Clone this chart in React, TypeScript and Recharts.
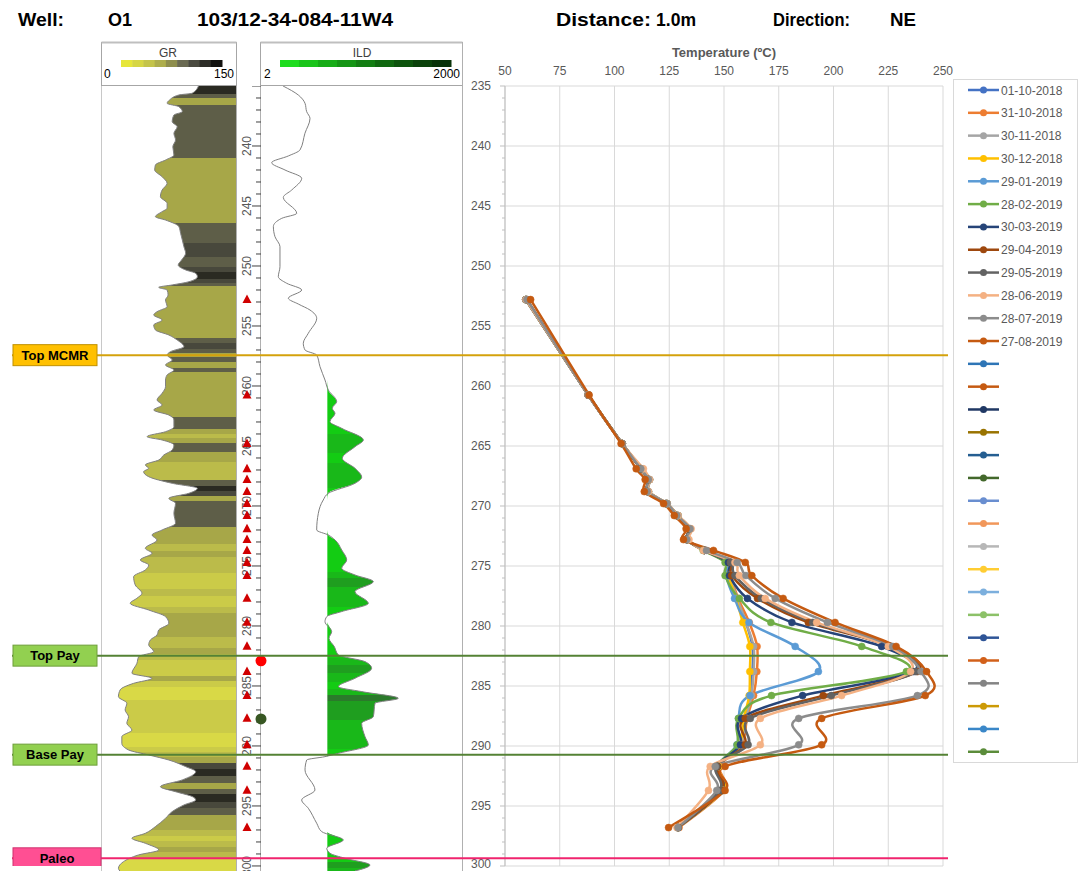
import React from 'react';
import { ComposedChart, Line, Area, XAxis, YAxis, CartesianGrid, Scatter, ReferenceLine } from 'recharts';

const SANS = '"Liberation Sans", Arial, Helvetica, sans-serif';

// ---------------- temperature survey data ----------------
const sensorDepths = [252.8, 260.75, 264.8, 266.9, 267.8, 268.8, 269.8, 270.8, 271.9, 272.8, 273.7, 274.7, 275.8, 277.7, 279.7, 281.7, 283.8, 285.8, 287.7, 289.9, 291.7, 293.7, 296.8];

const seriesNames = ['01-10-2018', '31-10-2018', '30-11-2018', '30-12-2018', '29-01-2019', '28-02-2019', '30-03-2019', '29-04-2019', '29-05-2019', '28-06-2019', '28-07-2019', '27-08-2019'];
const seriesColors = ['#4472C4', '#ED7D31', '#A5A5A5', '#FFC000', '#5B9BD5', '#70AD47', '#264478', '#9E480E', '#636363', '#F4B183', '#8C8C8C', '#C55A11'];

const t01_10_2018 = [59.5, 88, 103.5, 112.5, 116, 115.5, 124, 129, 134.5, 133.5, 141, 151.5, 152.5, 156, 160, 163, 163, 162, 159.5, 157.5, 147.5, 149.5, 129];
const t31_10_2018 = [59.5, 88, 103.5, 112.5, 116, 115.5, 124, 129, 134.5, 133.5, 141, 152, 153, 156.5, 161.5, 165.1, 165, 163.5, 160.5, 158, 148, 150, 129.5];
const t30_11_2018 = [59.5, 88, 103.5, 112.5, 116, 115.5, 124, 129, 134.5, 133.5, 141, 151.5, 152.5, 156, 160, 163.5, 163.5, 162.5, 160, 157.5, 147.5, 149.5, 129];
const t30_12_2018 = [59.5, 88, 103.5, 112.5, 116, 115.5, 124, 129, 134.5, 133.5, 141, 151, 152, 155.5, 158.6, 161.8, 161.8, 161.5, 159, 157, 147.5, 149.5, 129];
const t29_01_2019 = [59.5, 88, 103.5, 112.5, 116, 115.5, 124, 129, 134.5, 133.5, 141, 151, 151, 154.8, 161.4, 182.5, 193.1, 161.8, 156.6, 155.9, 147, 149, 129];
const t28_02_2019 = [59.5, 88, 103.5, 112, 115.5, 115, 123.5, 128.5, 134, 133, 140.5, 150.5, 150.5, 157, 171.4, 212.9, 233.3, 171.7, 156.6, 156, 147, 149, 129];
const t30_03_2019 = [59.5, 88, 103.5, 112, 115.5, 115, 123.5, 128.5, 134, 133, 141, 152, 152.5, 160.7, 181, 222, 236.5, 185.9, 158, 157.5, 147, 149, 129];
const t29_04_2019 = [60, 88, 103.5, 112, 115.5, 115, 123.5, 128.5, 134, 133, 141, 153, 153.5, 165.3, 188.5, 226, 238.3, 195.3, 159.7, 159.7, 147, 149, 129];
const t29_05_2019 = [60, 88, 103.5, 112, 115.5, 115, 123.5, 128.5, 134, 133, 141, 153, 155, 167, 190.5, 226, 237.5, 199, 162, 161, 146.5, 148, 129];
const t28_06_2019 = [59.5, 88, 103.5, 113.2, 116, 115.5, 124, 129, 135, 134, 140.6, 155, 157, 168.8, 192.3, 225, 235.2, 203.7, 166.6, 166.6, 143.7, 142.9, 128.5];
const t28_07_2019 = [60, 88, 103.5, 112, 115.5, 115, 124, 128.5, 134.5, 133, 142, 156, 160, 173.4, 197.2, 227, 240, 238.3, 184.1, 184.1, 146, 146.7, 129];
const t27_08_2019 = [61.7, 88.4, 103, 109.9, 114, 113.6, 122.4, 127.3, 132.7, 131.5, 145.2, 159.7, 162.7, 177, 200.7, 228.6, 242.5, 241.9, 194.6, 194.6, 150.5, 150.5, 124.7];

const seriesValues = [t01_10_2018, t31_10_2018, t30_11_2018, t30_12_2018, t29_01_2019, t28_02_2019, t30_03_2019, t29_04_2019, t29_05_2019, t28_06_2019, t28_07_2019, t27_08_2019];

// empty series that only appear in the legend
const extraLegendColors = ['#2E75B6', '#C55A11', '#203864', '#997300', '#255E91', '#43682B', '#698ED0', '#F1975A', '#B7B7B7', '#FFCD33', '#7CAFDD', '#8CC168', '#2F5597', '#D2601A', '#848484', '#CC9A06', '#3A87C8', '#5B8C3A'];

const tempTicks = [50, 75, 100, 125, 150, 175, 200, 225, 250];
const depthMajorTicks = [235, 240, 245, 250, 255, 260, 265, 270, 275, 280, 285, 290, 295, 300];
const depthMinorTicks = Array.from({ length: 66 }, (_, i) => 235 + i);

// ---------------- formation markers ----------------
const markerNames = ['Top MCMR', 'Top Pay', 'Base Pay', 'Paleo'];
const markerDepths = [257.43, 282.47, 290.72, 299.36];
const markerLineColors = ['#D4A20C', '#548235', '#548235', '#F0246E'];
const markerBoxColors = ['#FFC000', '#92D050', '#92D050', '#FF4F93'];
const markerBoxStrokes = ['#C09000', '#6E9E3A', '#6E9E3A', '#D0306E'];
const markerBoxWidths = [84, 84, 84, 88];

const perfDepths = [282.9, 287.75];
const perfColors = ['#FF0000', '#385723'];

// ---------------- GR log ----------------
const grDepths = [235.0, 235.6, 235.75, 236.17, 236.44, 236.72, 237.14, 237.42, 237.97, 238.39, 238.94, 239.5, 240.06, 240.75, 241.17, 241.58, 242.0, 242.56, 243.11, 243.67, 244.22, 244.78, 245.19, 245.47, 245.89, 246.17, 246.72, 247.28, 247.83, 248.39, 248.94, 249.5, 249.92, 250.33, 250.61, 250.89, 251.31, 251.58, 251.78, 252.0, 252.42, 252.83, 253.39, 253.81, 254.08, 254.5, 254.92, 255.33, 255.75, 256.17, 256.72, 257.14, 257.42, 257.83, 258.25, 258.67, 259.08, 259.5, 260.06, 260.61, 261.17, 261.58, 262.0, 262.42, 262.83, 263.39, 263.81, 264.22, 264.5, 264.92, 265.33, 265.75, 266.17, 266.58, 266.86, 267.14, 267.56, 268.11, 268.53, 268.94, 269.36, 269.78, 270.61, 271.44, 272.0, 272.42, 272.83, 273.53, 273.94, 274.5, 274.92, 275.33, 275.89, 276.58, 277.28, 277.69, 278.11, 278.67, 279.22, 279.78, 280.33, 280.75, 281.17, 281.58, 282.14, 282.56, 283.11, 283.94, 284.36, 284.78, 285.33, 285.89, 286.44, 287.0, 287.56, 288.11, 288.67, 289.22, 289.78, 290.33, 290.75, 291.17, 291.72, 292.14, 292.83, 293.39, 293.81, 294.22, 294.5, 294.92, 295.47, 296.03, 296.72, 297.28, 297.69, 298.11, 298.67, 299.08, 299.64, 300.2, 300.42];
const grValues = [108, 101, 86, 75.6, 72.9, 86, 89.9, 80.5, 78.6, 84.2, 80.5, 82.3, 79.3, 80.5, 71.1, 59.8, 59, 67.3, 72.9, 67.3, 65.4, 72.9, 72.9, 67.3, 59.8, 71.1, 86.1, 88, 89.9, 91.7, 93.6, 89.1, 85.3, 93.6, 104.9, 106.8, 97.4, 78.6, 63.5, 72.9, 74, 71.1, 72.9, 61.6, 57.9, 67.3, 57.9, 59.8, 74.8, 84.2, 91.7, 76.7, 72.9, 78.6, 71.1, 80.5, 72.9, 71.1, 71.1, 67.3, 61.6, 67.3, 57.9, 74.8, 80.5, 80.5, 71.1, 50.4, 67.3, 80.5, 78.6, 69.2, 63.5, 48.5, 52.3, 46.6, 52.3, 78.6, 106.8, 97.4, 74.8, 82.3, 80.5, 82.3, 67.3, 56, 61.6, 48.5, 56, 42.9, 52.3, 48.5, 35.4, 37.2, 44.7, 39.1, 31.6, 52.3, 71.1, 74.8, 63.5, 61.6, 54.1, 52.3, 57.9, 41, 39.1, 33.5, 56, 35.4, 20.3, 18.4, 27.8, 25.9, 29.7, 27.8, 33.5, 22.2, 22.2, 29.7, 52.3, 74.8, 93.6, 104.9, 89.9, 65.4, 82.3, 101.1, 104.9, 91.7, 78.6, 71.1, 59.8, 48.5, 33.5, 48.5, 63.5, 41, 24.1, 18.4, 20];

// ---------------- ILD log ----------------
const ildDepths = [235.0, 235.75, 236.44, 237.14, 237.7, 238.94, 240.33, 240.83, 241.39, 242.0, 242.69, 243.67, 244.28, 245.61, 246.03, 246.72, 247.56, 248.39, 250.06, 250.89, 251.44, 252.0, 252.69, 253.17, 253.67, 254.36, 255.61, 256.44, 257.0, 257.42, 258.39, 259.5, 260.33, 261.3, 261.86, 262.28, 262.97, 263.53, 264.5, 265.06, 266.03, 266.86, 267.6, 268.11, 268.94, 269.5, 270.61, 272.0, 272.42, 272.83, 273.67, 274.5, 275.19, 275.75, 276.3, 277.14, 278.11, 278.8, 279.22, 279.64, 280.47, 281.03, 281.72, 282.42, 282.97, 283.53, 284.36, 285.06, 285.47, 286.03, 286.44, 287.56, 288.11, 289.22, 289.92, 290.61, 290.89, 291.17, 292.0, 293.67, 294.5, 295.19, 296.44, 297.14, 297.83, 298.53, 298.94, 299.36, 299.92, 300.42];
const ildValues = [4.4, 7.41, 9.32, 9.87, 11.06, 9.3, 7.85, 5.27, 2.98, 4.7, 8.32, 5.91, 4.44, 7.02, 4.2, 3.16, 3.34, 3.96, 3.96, 3.74, 4.98, 8.32, 5.27, 7.41, 11.06, 13.9, 10.43, 8.79, 9.32, 13.9, 15.56, 18.46, 20.66, 27.5, 23.7, 26, 21.9, 32.7, 68.5, 51.5, 33.4, 51.5, 64.7, 51.5, 20.7, 17.4, 14.7, 13.9, 20.7, 26, 32.7, 38.8, 32.7, 51.5, 96.3, 51.5, 81.2, 32.7, 19.6, 18.46, 23.2, 21.2, 25.4, 29.2, 72.5, 91, 51.5, 29.2, 64.7, 226, 102, 96.3, 64.7, 72.5, 81.2, 29.2, 18.46, 9.87, 9.32, 13.1, 8.32, 10.43, 13.9, 16.5, 34.5, 19.6, 21.9, 36.6, 86, 51.5];
const ildCutoff = 20;

// ---------------- styles ----------------
const grBandLimits = [25, 40, 56, 76, 90, 100, 1000];
const grBandColors = ['#D9D946', '#CBCB48', '#BBBB4A', '#A7A748', '#5E5E48', '#48483C', '#2A2A22'];
const grScaleColors = ['#E6E63A', '#D6D644', '#C4C44A', '#AEAE4C', '#8E8E4D', '#6A6A52', '#4A4A40', '#2E2E28', '#121210'];
const ildBandLimits = [45, 85, 150, 1e9];
const ildBandColors = ['#13CC13', '#19B819', '#1F9E1F', '#2B7A2B'];
const ildScaleColors = ['#1EDC1E', '#1AC41A', '#17AC17', '#159515', '#137E13', '#106810', '#0D540D', '#0B420B', '#093309'];

const bandColor = (v: number, limits: number[], colors: string[]) => {
  for (let i = 0; i < limits.length; i++) if (v < limits[i]) return colors[i];
  return colors[colors.length - 1];
};

const bandStops = (depths: number[], values: number[], limits: number[], colors: string[], key: string) => {
  const d0 = depths[0];
  const dn = depths[depths.length - 1];
  const out: any[] = [];
  for (let i = 0; i < depths.length; i++) {
    const a = i === 0 ? d0 : (depths[i - 1] + depths[i]) / 2;
    const b = i === depths.length - 1 ? dn : (depths[i] + depths[i + 1]) / 2;
    const c = bandColor(values[i], limits, colors);
    out.push(<stop key={key + i + 'a'} offset={(a - d0) / (dn - d0)} stopColor={c} />);
    out.push(<stop key={key + i + 'b'} offset={(b - d0) / (dn - d0)} stopColor={c} />);
  }
  return out;
};

// Excel-like smoothed line (Catmull-Rom through the points)
const excelSmooth: any = (context: any) => {
  let pts: number[][] = [];
  return {
    areaStart() {},
    areaEnd() {},
    lineStart() { pts = []; },
    point(x: number, y: number) { pts.push([+x, +y]); },
    lineEnd() {
      if (!pts.length) return;
      context.moveTo(pts[0][0], pts[0][1]);
      for (let i = 0; i < pts.length - 1; i++) {
        const p0 = pts[i - 1] || pts[i];
        const p1 = pts[i];
        const p2 = pts[i + 1];
        const p3 = pts[i + 2] || p2;
        context.bezierCurveTo(
          p1[0] + (p2[0] - p0[0]) / 6, p1[1] + (p2[1] - p0[1]) / 6,
          p2[0] - (p3[0] - p1[0]) / 6, p2[1] - (p3[1] - p1[1]) / 6,
          p2[0], p2[1]
        );
      }
    },
  };
};

const tempRows = sensorDepths.map((d, i) => {
  const r: any = { depth: d };
  seriesValues.forEach((arr, k) => { r['s' + k] = arr[i]; });
  return r;
});
const grRows = grDepths.map((d, i) => ({ depth: d, gr: grValues[i] }));
const ildRows = ildDepths.map((d, i) => ({ depth: d, ild: ildValues[i] }));
const tickRows = depthMinorTicks.map((d) => ({ col: 0, depth: d }));
const sensorRows = sensorDepths.map((d) => ({ col: 10, depth: d }));
const perfRows = perfDepths.map((d, i) => ({ col: 24, depth: d, color: perfColors[i] }));
const markerRows = markerDepths.map((d) => ({ x: 0.5, depth: d }));

// ---------------- small renderers ----------------
const TempDepthTick = (props: any) => {
  const { x, y, payload } = props;
  const v = payload.value;
  const major = v % 5 === 0;
  return (
    <g>
      <line x1={x - (major ? 5 : 3)} x2={x} y1={y} y2={y} stroke="#BFBFBF" strokeWidth={1} />
      {major && (
        <text x={x - 14} y={y} dy={v === 300 ? 2 : 4} textAnchor="end" fontSize={12} fill="#595959" fontFamily={SANS}>{v}</text>
      )}
    </g>
  );
};

const DepthMark = (props: any) => {
  const { cx, cy, payload } = props;
  const v = payload.depth;
  const major = v % 5 === 0;
  return (
    <g>
      <line x1={cx + (major ? 15 : 19)} x2={cx + 24} y1={cy} y2={cy} stroke="#404040" strokeWidth={1} />
      {major && v > 235 && (
        <text transform={`translate(${cx + 10},${cy}) rotate(-90)`} textAnchor="middle" dy={4} fontSize={12} fill="#595959" fontFamily={SANS}>{v}</text>
      )}
    </g>
  );
};

const SensorTriangle = (props: any) => {
  const { cx, cy } = props;
  return <polygon points={`${cx},${cy - 5} ${cx - 4.5},${cy + 3.5} ${cx + 4.5},${cy + 3.5}`} fill="#D00000" />;
};

const PerfDot = (props: any) => {
  const { cx, cy, payload } = props;
  return <circle cx={cx} cy={cy} r={5.5} fill={payload.color} />;
};

const markerLabel = (k: number) => (props: any) => {
  const vb = props.viewBox || {};
  const x = vb.x + 1;
  const y = vb.y;
  const w = markerBoxWidths[k];
  return (
    <g>
      <rect x={x} y={y - 10.5} width={w} height={21} fill={markerBoxColors[k]} stroke={markerBoxStrokes[k]} strokeWidth={1} />
      <text x={x + w / 2} y={y} dy={4.5} textAnchor="middle" fontSize={13} fontWeight="bold" fill="#000" fontFamily={SANS}>{markerNames[k]}</text>
    </g>
  );
};

function Decor() {
  const grBarX = 121, grBarW = 101;
  const ildBarX = 280, ildBarW = 171;
  return (
    <svg width={1080} height={871} style={{ position: 'absolute', left: 0, top: 0 }}>
      <rect x={0} y={0} width={1080} height={871} fill="#FFFFFF" />
      <g fontFamily={SANS} fontWeight="bold" fontSize={18} fill="#000">
        <text x={18} y={26} textLength={46} lengthAdjust="spacingAndGlyphs">Well:</text>
        <text x={108} y={26} textLength={24} lengthAdjust="spacingAndGlyphs">O1</text>
        <text x={197} y={26} textLength={196} lengthAdjust="spacingAndGlyphs">103/12-34-084-11W4</text>
        <text x={556} y={26} textLength={95} lengthAdjust="spacingAndGlyphs">Distance:</text>
        <text x={656} y={26} textLength={40} lengthAdjust="spacingAndGlyphs">1.0m</text>
        <text x={773} y={26} textLength={77} lengthAdjust="spacingAndGlyphs">Direction:</text>
        <text x={890} y={26} textLength={26} lengthAdjust="spacingAndGlyphs">NE</text>
      </g>
      {/* GR header */}
      <rect x={101.5} y={42.5} width={135} height={43} fill="#fff" stroke="#A6A6A6" />
      <line x1={101.5} x2={236.5} y1={42.5} y2={42.5} stroke="#BFBFBF" strokeWidth={2} />
      <text x={168} y={57} textAnchor="middle" fontSize={12} fill="#404040" fontFamily={SANS}>GR</text>
      {grScaleColors.map((c, i) => (
        <rect key={i} x={grBarX + (i * grBarW) / grScaleColors.length} y={60} width={grBarW / grScaleColors.length + 0.5} height={7} fill={c} />
      ))}
      <text x={104} y={78} fontSize={12} fill="#000" fontFamily={SANS}>0</text>
      <text x={234} y={78} textAnchor="end" fontSize={12} fill="#000" fontFamily={SANS}>150</text>
      {/* ILD header */}
      <rect x={260.5} y={42.5} width={202} height={43} fill="#fff" stroke="#A6A6A6" />
      <line x1={260.5} x2={462.5} y1={42.5} y2={42.5} stroke="#BFBFBF" strokeWidth={2} />
      <text x={362} y={57} textAnchor="middle" fontSize={12} fill="#404040" fontFamily={SANS}>ILD</text>
      {ildScaleColors.map((c, i) => (
        <rect key={i} x={ildBarX + (i * ildBarW) / ildScaleColors.length} y={60} width={ildBarW / ildScaleColors.length + 0.5} height={7} fill={c} />
      ))}
      <text x={264} y={78} fontSize={12} fill="#000" fontFamily={SANS}>2</text>
      <text x={460} y={78} textAnchor="end" fontSize={12} fill="#000" fontFamily={SANS}>2000</text>
      {/* track borders */}
      <line x1={101.5} x2={101.5} y1={86} y2={871} stroke="#C8C8C8" />
      <line x1={236.5} x2={236.5} y1={86} y2={871} stroke="#B0B0B0" />
      <line x1={260.5} x2={260.5} y1={86} y2={871} stroke="#B0B0B0" />
      <line x1={462.5} x2={462.5} y1={42} y2={871} stroke="#B0B0B0" />
    </svg>
  );
}

function LegendBox() {
  const names = [...seriesNames, ...extraLegendColors.map(() => '')];
  const colors = [...seriesColors, ...extraLegendColors];
  const y0 = 79, step = 22.82;
  return (
    <svg width={1080} height={871} style={{ position: 'absolute', left: 0, top: 0, pointerEvents: 'none' }}>
      <rect x={953.5} y={y0 + 0.5} width={124} height={683} fill="#fff" stroke="#D9D9D9" />
      {names.map((n, i) => {
        const cy = 90 + i * step;
        return (
          <g key={i}>
            <line x1={968} x2={999} y1={cy} y2={cy} stroke={colors[i]} strokeWidth={2.5} />
            <circle cx={983.5} cy={cy} r={3.5} fill={colors[i]} />
            {n && (
              <text x={1001} y={cy} dy={4.5} fontSize={12} fill="#595959" fontFamily={SANS}>{n}</text>
            )}
          </g>
        );
      })}
    </svg>
  );
}

export default function App() {
  return (
    <div style={{ position: 'absolute', left: 0, top: 0, width: 1080, height: 871, overflow: 'hidden', background: '#fff', fontFamily: SANS }}>
      <Decor />

      {/* GR track */}
      <div style={{ position: 'absolute', left: 102, top: 86 }}>
        <ComposedChart width={134} height={785} data={grRows} layout="vertical" margin={{ top: 0, right: 0, bottom: 0, left: 0 }}>
          <defs>
            <linearGradient id="grFill" x1="0" y1="0" x2="0" y2="1">
              {bandStops(grDepths, grValues, grBandLimits, grBandColors, 'gr')}
            </linearGradient>
          </defs>
          <XAxis type="number" domain={[0, 150]} allowDataOverflow hide />
          <YAxis type="number" dataKey="depth" domain={[235, 300.42]} allowDataOverflow hide />
          <Area dataKey="gr" baseValue={150} type="monotone" fill="url(#grFill)" fillOpacity={1} stroke="#808080" strokeWidth={1} dot={false} activeDot={false} isAnimationActive={false} />
        </ComposedChart>
      </div>

      {/* ILD track */}
      <div style={{ position: 'absolute', left: 260, top: 86 }}>
        <ComposedChart width={202} height={785} data={ildRows} layout="vertical" margin={{ top: 0, right: 0, bottom: 0, left: 0 }}>
          <defs>
            <linearGradient id="ildFill" x1="0" y1="0" x2="0" y2="1">
              {bandStops(ildDepths, ildValues, ildBandLimits, ildBandColors, 'ild')}
            </linearGradient>
          </defs>
          <XAxis type="number" scale="log" domain={[2, 2000]} allowDataOverflow hide />
          <YAxis type="number" dataKey="depth" domain={[235, 300.42]} allowDataOverflow hide />
          <Area dataKey={(r: any) => [ildCutoff, Math.max(ildCutoff, r.ild)]} type="monotone" fill="url(#ildFill)" fillOpacity={1} stroke="none" dot={false} activeDot={false} isAnimationActive={false} />
          <Line dataKey="ild" type="monotone" stroke="#7F7F7F" strokeWidth={1} dot={false} activeDot={false} isAnimationActive={false} />
        </ComposedChart>
      </div>

      {/* depth scale column with sensor positions */}
      <div style={{ position: 'absolute', left: 237, top: 86 }}>
        <ComposedChart width={30} height={785} margin={{ top: 0, right: 0, bottom: 0, left: 0 }}>
          <XAxis type="number" dataKey="col" domain={[0, 30]} allowDataOverflow hide />
          <YAxis type="number" dataKey="depth" domain={[235, 300.42]} allowDataOverflow reversed hide />
          <Scatter data={tickRows} shape={DepthMark} isAnimationActive={false} />
          <Scatter data={sensorRows} shape={SensorTriangle} isAnimationActive={false} />
          <Scatter data={perfRows} shape={PerfDot} isAnimationActive={false} />
        </ComposedChart>
      </div>

      {/* temperature profiles */}
      <div style={{ position: 'absolute', left: 440, top: 30 }}>
        <ComposedChart width={520} height={846} data={tempRows} layout="vertical" margin={{ top: 34, right: 17, bottom: 10, left: 25 }}>
          <CartesianGrid
            stroke="#D9D9D9"
            horizontalCoordinatesGenerator={(args: any) => {
              const sc = args && args.yAxis && args.yAxis.scale;
              if (!sc) return [];
              const f = typeof sc === 'function' ? (v: number) => sc(v) : (v: number) => sc.map(v);
              return depthMajorTicks.map((v) => f(v));
            }}
          />
          <XAxis
            type="number"
            orientation="top"
            domain={[50, 250]}
            ticks={tempTicks}
            allowDataOverflow
            height={22}
            axisLine={false}
            tickLine={false}
            tickMargin={5}
            tick={{ fontSize: 12, fill: '#595959', fontFamily: SANS }}
            label={{ value: 'Temperature (ºC)', position: 'top', offset: 7, fontSize: 13, fontWeight: 'bold', fill: '#595959', fontFamily: SANS }}
          />
          <YAxis
            type="number"
            dataKey="depth"
            domain={[235, 300]}
            ticks={depthMinorTicks}
            interval={0}
            allowDataOverflow
            width={40}
            axisLine={{ stroke: '#BFBFBF' }}
            tickLine={false}
            tickSize={0}
            tickMargin={0}
            tick={TempDepthTick}
          />
          {seriesNames.map((n, k) => (
            <Line
              key={n}
              name={n}
              dataKey={'s' + k}
              type={excelSmooth}
              stroke={seriesColors[k]}
              strokeWidth={2.5}
              dot={{ r: 3.5, fill: seriesColors[k], stroke: seriesColors[k], strokeWidth: 0.5 }}
              activeDot={false}
              isAnimationActive={false}
            />
          ))}
        </ComposedChart>
      </div>

      <LegendBox />

      {/* formation markers across the whole panel */}
      <div style={{ position: 'absolute', left: 12, top: 86, pointerEvents: 'none' }}>
        <ComposedChart width={936} height={780} data={markerRows} margin={{ top: 0, right: 0, bottom: 0, left: 0 }}>
          <XAxis type="number" dataKey="x" domain={[0, 1]} allowDataOverflow hide />
          <YAxis type="number" dataKey="depth" domain={[235, 300]} allowDataOverflow reversed hide />
          <Scatter data={markerRows} fill="none" shape={() => <g />} isAnimationActive={false} />
          {markerDepths.map((d, k) => (
            <ReferenceLine key={k} y={d} stroke={markerLineColors[k]} strokeWidth={2} ifOverflow="visible" label={markerLabel(k)} />
          ))}
        </ComposedChart>
      </div>
    </div>
  );
}
